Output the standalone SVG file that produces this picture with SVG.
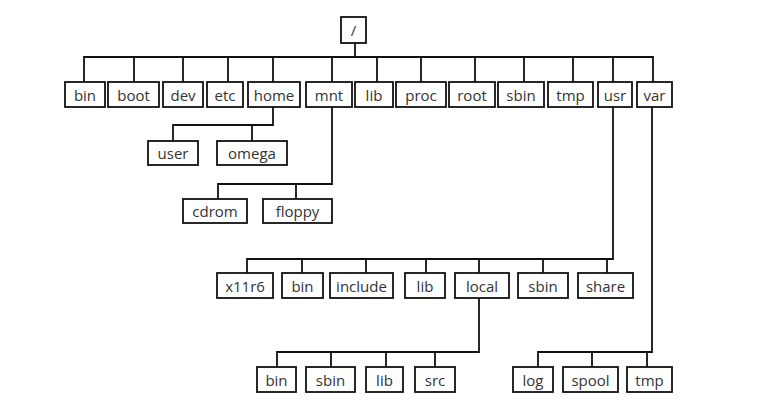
<svg xmlns="http://www.w3.org/2000/svg" width="765" height="402" viewBox="0 0 765 402">
<style>
rect{fill:#fff;stroke:#111;stroke-width:1.8}
text{font-family:"Open Sans","Noto Sans","Liberation Sans",sans-serif;font-size:15px;fill:#333;text-anchor:middle;dominant-baseline:central}
.c path{fill:none;stroke:#111;stroke-width:1.8}
</style>
<rect x="0" y="0" width="765" height="402" style="stroke:none"/>
<g class="c" id="connectors">
<path d="M355 43V57M84 82V57H653V82M134 57V82M183 57V82M228 57V82M273 57V82M332 57V82M377 57V82M421 57V82M475 57V82M524 57V82M573 57V82M613 57V82"/>
<path d="M273 107V125H173V141M252 125V141"/>
<path d="M332 107V184H218V199M296 184V199"/>
<path d="M613 107V259H247V273M302 259V273M366 259V273M426 259V273M479 259V273M543 259V273M607 259V273"/>
<path d="M479 298V352H277V367M331 352V367M386 352V367M435 352V367"/>
<path d="M652 107V352H538V367M592 352V367M647 352V367"/>
</g>
<g id="n-root"><rect x="341" y="17" width="25" height="26"/><text x="353.5" y="30">/</text></g>
<g id="n-bin"><rect x="65" y="82" width="40" height="25"/><text x="85" y="94.5">bin</text></g>
<g id="n-boot"><rect x="108" y="82" width="51" height="25"/><text x="133.5" y="94.5">boot</text></g>
<g id="n-dev"><rect x="163" y="82" width="40" height="25"/><text x="183" y="94.5">dev</text></g>
<g id="n-etc"><rect x="207" y="82" width="36" height="25"/><text x="225" y="94.5">etc</text></g>
<g id="n-home"><rect x="248" y="82" width="52" height="25"/><text x="274" y="94.5">home</text></g>
<g id="n-mnt"><rect x="306" y="82" width="46" height="25"/><text x="329" y="94.5">mnt</text></g>
<g id="n-lib"><rect x="355" y="82" width="38" height="25"/><text x="374" y="94.5">lib</text></g>
<g id="n-proc"><rect x="396" y="82" width="50" height="25"/><text x="421" y="94.5">proc</text></g>
<g id="n-root2"><rect x="449" y="82" width="46" height="25"/><text x="472" y="94.5">root</text></g>
<g id="n-sbin"><rect x="498" y="82" width="46" height="25"/><text x="521" y="94.5">sbin</text></g>
<g id="n-tmp"><rect x="548" y="82" width="45" height="25"/><text x="570.5" y="94.5">tmp</text></g>
<g id="n-usr"><rect x="598" y="82" width="34" height="25"/><text x="615" y="94.5">usr</text></g>
<g id="n-var"><rect x="637" y="82" width="35" height="25"/><text x="654.5" y="94.5">var</text></g>
<g id="n-user"><rect x="148" y="141" width="50" height="24"/><text x="173" y="153">user</text></g>
<g id="n-omega"><rect x="217" y="141" width="70" height="24"/><text x="252" y="153">omega</text></g>
<g id="n-cdrom"><rect x="183" y="199" width="64" height="24"/><text x="215" y="211">cdrom</text></g>
<g id="n-floppy"><rect x="263" y="199" width="69" height="24"/><text x="297.5" y="211">floppy</text></g>
<g id="n-x11r6"><rect x="217" y="273" width="56" height="25"/><text x="245" y="285.5">x11r6</text></g>
<g id="n-usr-bin"><rect x="282" y="273" width="41" height="25"/><text x="302.5" y="285.5">bin</text></g>
<g id="n-include"><rect x="330" y="273" width="63" height="25"/><text x="361.5" y="285.5">include</text></g>
<g id="n-usr-lib"><rect x="405" y="273" width="40" height="25"/><text x="425" y="285.5">lib</text></g>
<g id="n-local"><rect x="455" y="273" width="54" height="25"/><text x="482" y="285.5">local</text></g>
<g id="n-usr-sbin"><rect x="518" y="273" width="50" height="25"/><text x="543" y="285.5">sbin</text></g>
<g id="n-share"><rect x="578" y="273" width="55" height="25"/><text x="605.5" y="285.5">share</text></g>
<g id="n-local-bin"><rect x="257" y="367" width="39" height="25"/><text x="276.5" y="379.5">bin</text></g>
<g id="n-local-sbin"><rect x="306" y="367" width="49" height="25"/><text x="330.5" y="379.5">sbin</text></g>
<g id="n-local-lib"><rect x="366" y="367" width="37" height="25"/><text x="384.5" y="379.5">lib</text></g>
<g id="n-src"><rect x="415" y="367" width="40" height="25"/><text x="435" y="379.5">src</text></g>
<g id="n-log"><rect x="513" y="367" width="40" height="25"/><text x="533" y="379.5">log</text></g>
<g id="n-spool"><rect x="563" y="367" width="55" height="25"/><text x="590.5" y="379.5">spool</text></g>
<g id="n-var-tmp"><rect x="627" y="367" width="45" height="25"/><text x="649.5" y="379.5">tmp</text></g>
</svg>
